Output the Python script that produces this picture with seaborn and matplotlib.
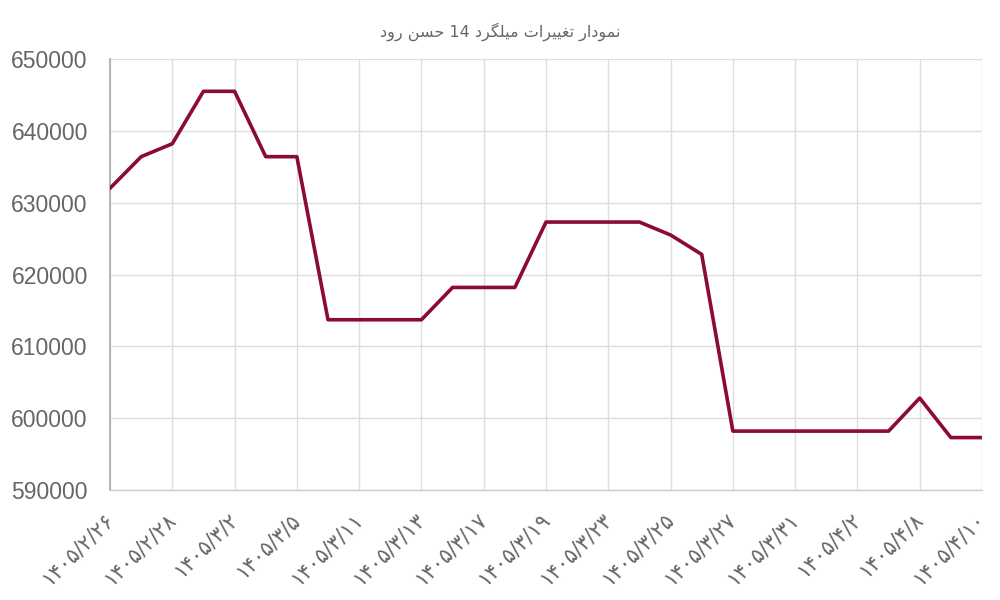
import matplotlib
matplotlib.use("Agg")
import matplotlib.pyplot as plt
import seaborn as sns
import pandas as pd

# ---- data ----
title_text = "نمودار تغییرات میلگرد 14 حسن رود"
tick_labels = ["۱۴۰۵/۲/۲۶", "۱۴۰۵/۲/۲۸", "۱۴۰۵/۳/۲", "۱۴۰۵/۳/۵", "۱۴۰۵/۳/۱۱",
               "۱۴۰۵/۳/۱۳", "۱۴۰۵/۳/۱۷", "۱۴۰۵/۳/۱۹", "۱۴۰۵/۳/۲۳", "۱۴۰۵/۳/۲۵",
               "۱۴۰۵/۳/۲۷", "۱۴۰۵/۳/۳۱", "۱۴۰۵/۴/۲", "۱۴۰۵/۴/۸", "۱۴۰۵/۴/۱۰"]
prices = [632000, 636400, 638200, 645500, 645500, 636400, 636400, 613700,
          613700, 613700, 613700, 618200, 618200, 618200, 627300, 627300,
          627300, 627300, 625500, 622800, 598200, 598200, 598200, 598200,
          598200, 598200, 602800, 597300, 597300]
y_ticks = [590000, 600000, 610000, 620000, 630000, 640000, 650000]

# ---- minimal Arabic/Persian shaping (matplotlib has no complex text layout) ----
FORMS = {  # isolated, final, initial, medial
    "ا": ("\uFE8D", "\uFE8E", None, None),
    "د": ("\uFEA9", "\uFEAA", None, None),
    "ر": ("\uFEAD", "\uFEAE", None, None),
    "و": ("\uFEED", "\uFEEE", None, None),
    "ن": ("\uFEE5", "\uFEE6", "\uFEE7", "\uFEE8"),
    "م": ("\uFEE1", "\uFEE2", "\uFEE3", "\uFEE4"),
    "ت": ("\uFE95", "\uFE96", "\uFE97", "\uFE98"),
    "غ": ("\uFECD", "\uFECE", "\uFECF", "\uFED0"),
    "ی": ("\uFBFC", "\uFBFD", "\uFBFE", "\uFBFF"),
    "ل": ("\uFEDD", "\uFEDE", "\uFEDF", "\uFEE0"),
    "گ": ("\uFB92", "\uFB93", "\uFB94", "\uFB95"),
    "ح": ("\uFEA1", "\uFEA2", "\uFEA3", "\uFEA4"),
    "س": ("\uFEB1", "\uFEB2", "\uFEB3", "\uFEB4"),
}


def shape_word(w):
    out = []
    for i, ch in enumerate(w):
        if ch not in FORMS:
            out.append(ch)
            continue
        prev = w[i - 1] if i > 0 else None
        nxt = w[i + 1] if i + 1 < len(w) else None
        join_prev = prev in FORMS and FORMS[prev][2] is not None
        join_next = nxt in FORMS and FORMS[ch][2] is not None
        iso, fin, ini, med = FORMS[ch]
        if join_prev and join_next:
            out.append(med)
        elif join_prev:
            out.append(fin)
        elif join_next:
            out.append(ini)
        else:
            out.append(iso)
    return "".join(out)


def rtl(text):
    words = text.split(" ")
    vis = []
    for w in words:
        if any(c in FORMS for c in w):
            vis.append(shape_word(w)[::-1])
        else:
            vis.append(w)
    return " ".join(vis[::-1])


df = pd.DataFrame({"idx": range(len(prices)), "price": prices})

sns.set_style("white")
plt.rcParams["font.family"] = ["Liberation Sans", "DejaVu Sans"]

fig = plt.figure(figsize=(10, 6), dpi=100)
ax = fig.add_axes([0.110, 0.1833, 0.872, 0.7184])

sns.lineplot(data=df, x="idx", y="price", ax=ax, color="#8b0a36",
             linewidth=2.6, zorder=5)

ax.set_xlim(0, len(prices) - 1)
ax.set_ylim(590000, 650000)
ax.set_yticks(y_ticks)
ax.set_yticklabels([str(v) for v in y_ticks])
ax.set_xticks(list(range(0, len(prices), 2)))
ax.set_xticklabels(tick_labels, rotation=45, ha="right", va="center",
                   rotation_mode="anchor", family=["DejaVu Sans"],
                   fontsize=15, color="#666666")

ax.grid(True, color="#dddddd", linewidth=1)
ax.tick_params(axis="y", length=14, width=1, color="#dddddd", labelsize=16.5,
               labelcolor="#666666", pad=2)
ax.tick_params(axis="x", length=13, width=1, color="#dddddd", pad=6)
ax.set_xlabel("")
ax.set_ylabel("")

for s in ["top", "right"]:
    ax.spines[s].set_visible(False)
ax.spines["left"].set_color("#aaaaaa")
ax.spines["left"].set_linewidth(1.2)
ax.spines["bottom"].set_color("#cccccc")
ax.spines["bottom"].set_linewidth(1)

fig.text(0.5, 0.948, rtl(title_text), ha="center", va="center",
         fontsize=11.5, color="#666666", family=["DejaVu Sans"])

fig.savefig("out.png", dpi=100, facecolor="white")
